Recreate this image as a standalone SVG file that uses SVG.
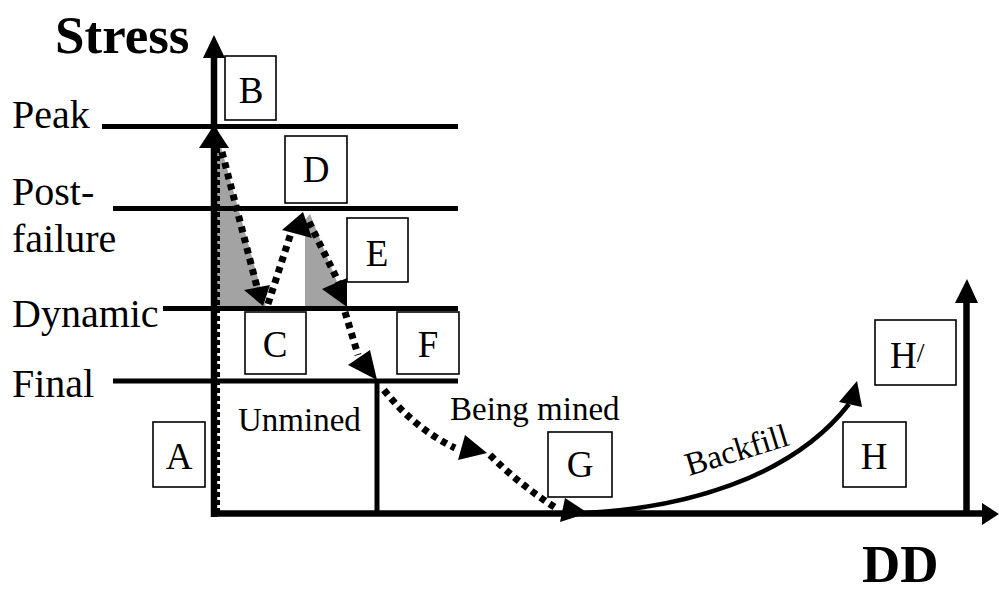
<svg xmlns="http://www.w3.org/2000/svg" width="999" height="592" viewBox="0 0 999 592">
<style>
.box{fill:#fff;stroke:#000;stroke-width:1.6}
.lt{font-family:"Liberation Serif","Times New Roman",serif;font-size:37px;fill:#000;text-anchor:middle}
.lbl{font-family:"Liberation Serif","Times New Roman",serif;font-size:40px;fill:#000}
.sm{font-family:"Liberation Serif","Times New Roman",serif;font-size:33px;fill:#000}
.ttl{font-family:"Liberation Serif","Times New Roman",serif;font-weight:bold;fill:#000}
.ln{stroke:#000;stroke-width:5;fill:none}
.ax{stroke:#000;stroke-width:6.5;fill:none}
.dot{stroke:#000;stroke-width:7;fill:none;stroke-dasharray:6 5}
.ah{fill:#000}
.grey{fill:#a3a3a3}
</style>
<rect width="999" height="592" fill="#fff"/>
<g id="shading">
<polygon class="grey" points="217,147 221,147 266,307 217,307"/>
<polygon class="grey" points="305,220 310,214 347,307 305,307"/>
</g>
<g id="levels">
<line class="ln" x1="102" y1="126.5" x2="458" y2="126.5"/>
<line class="ln" x1="113" y1="208.5" x2="458" y2="208.5"/>
<line class="ln" x1="163" y1="308.5" x2="458" y2="308.5"/>
<line class="ln" x1="113" y1="381" x2="458" y2="381"/>
<line class="ln" x1="377" y1="381" x2="377" y2="513"/>
</g>
<g id="axes">
<line class="ax" x1="214" y1="517" x2="214" y2="55"/>
<polygon class="ah" points="214,35 203,58 225,58"/>
<polygon class="ah" points="214,125 199,148 229,148"/>
<line stroke="#000" stroke-width="3" stroke-dasharray="5 3" x1="218.5" y1="148" x2="218.5" y2="512"/>
<line class="ax" x1="211" y1="513.5" x2="985" y2="513.5"/>
<polygon class="ah" points="999,514 982,503 982,525"/>
<line class="ax" x1="966.5" y1="513" x2="966.5" y2="300"/>
<polygon class="ah" points="967,279 955,303 978,303"/>
</g>
<g id="connectors">
<line class="dot" x1="222" y1="152" x2="257" y2="287"/>
<polygon class="ah" points="244,290 270,285 263,306"/>
<line class="dot" x1="268" y1="304" x2="291" y2="233"/>
<polygon class="ah" points="282,230 303,212 312,238"/>
<line class="dot" x1="309" y1="222" x2="340" y2="285"/>
<polygon class="ah" points="322,289 347,278 347,307"/>
<line class="dot" x1="345" y1="312" x2="358" y2="355"/>
<polygon class="ah" points="348,365 370,350 377,380"/>
<path class="dot" d="M384,390 Q414,428 455,448"/>
<polygon class="ah" points="458,460 465,435 487,453"/>
<path class="dot" d="M490,455 Q520,485 556,508"/>
<polygon class="ah" points="560,522 565,498 588,513"/>
<path d="M586,513 C680,508 790,480 849,404" stroke="#000" stroke-width="4.5" fill="none"/>
<polygon class="ah" points="857,381 839,402 862,407"/>
</g>
<g id="node-A"><rect class="box" x="153" y="422" width="52" height="65"/><text class="lt" x="179" y="469">A</text></g>
<g id="node-B"><rect class="box" x="225" y="56" width="51" height="64"/><text class="lt" x="251" y="103">B</text></g>
<g id="node-C"><rect class="box" x="245" y="312" width="61" height="62"/><text class="lt" x="275" y="357">C</text></g>
<g id="node-D"><rect class="box" x="285" y="136" width="62" height="67"/><text class="lt" x="316" y="182">D</text></g>
<g id="node-E"><rect class="box" x="347" y="218" width="61" height="64"/><text class="lt" x="377" y="266">E</text></g>
<g id="node-F"><rect class="box" x="397" y="312" width="62" height="62"/><text class="lt" x="428" y="357">F</text></g>
<g id="node-G"><rect class="box" x="548" y="432" width="64" height="65"/><text class="lt" x="580" y="477">G</text></g>
<g id="node-H"><rect class="box" x="843" y="422" width="63" height="65"/><text class="lt" x="874" y="469">H</text></g>
<g id="node-Hp"><rect class="box" x="875" y="320" width="81" height="65"/><text class="lt" x="890" y="368" style="text-anchor:start">H<tspan font-size="28" dy="-6">/</tspan></text></g>
<g id="labels">
<text class="ttl" x="55" y="53" font-size="53">Stress</text>
<text class="ttl" x="862" y="582" font-size="53">DD</text>
<text class="lbl" x="12" y="128">Peak</text>
<text class="lbl" x="12" y="205">Post-</text>
<text class="lbl" x="12" y="252">failure</text>
<text class="lbl" x="12" y="327">Dynamic</text>
<text class="lbl" x="12" y="397">Final</text>
<text class="sm" x="238" y="431">Unmined</text>
<text class="sm" x="450" y="420">Being mined</text>
<text class="sm" x="689" y="476" font-size="30" transform="rotate(-17 689 476)">Backfill</text>
</g>
</svg>
